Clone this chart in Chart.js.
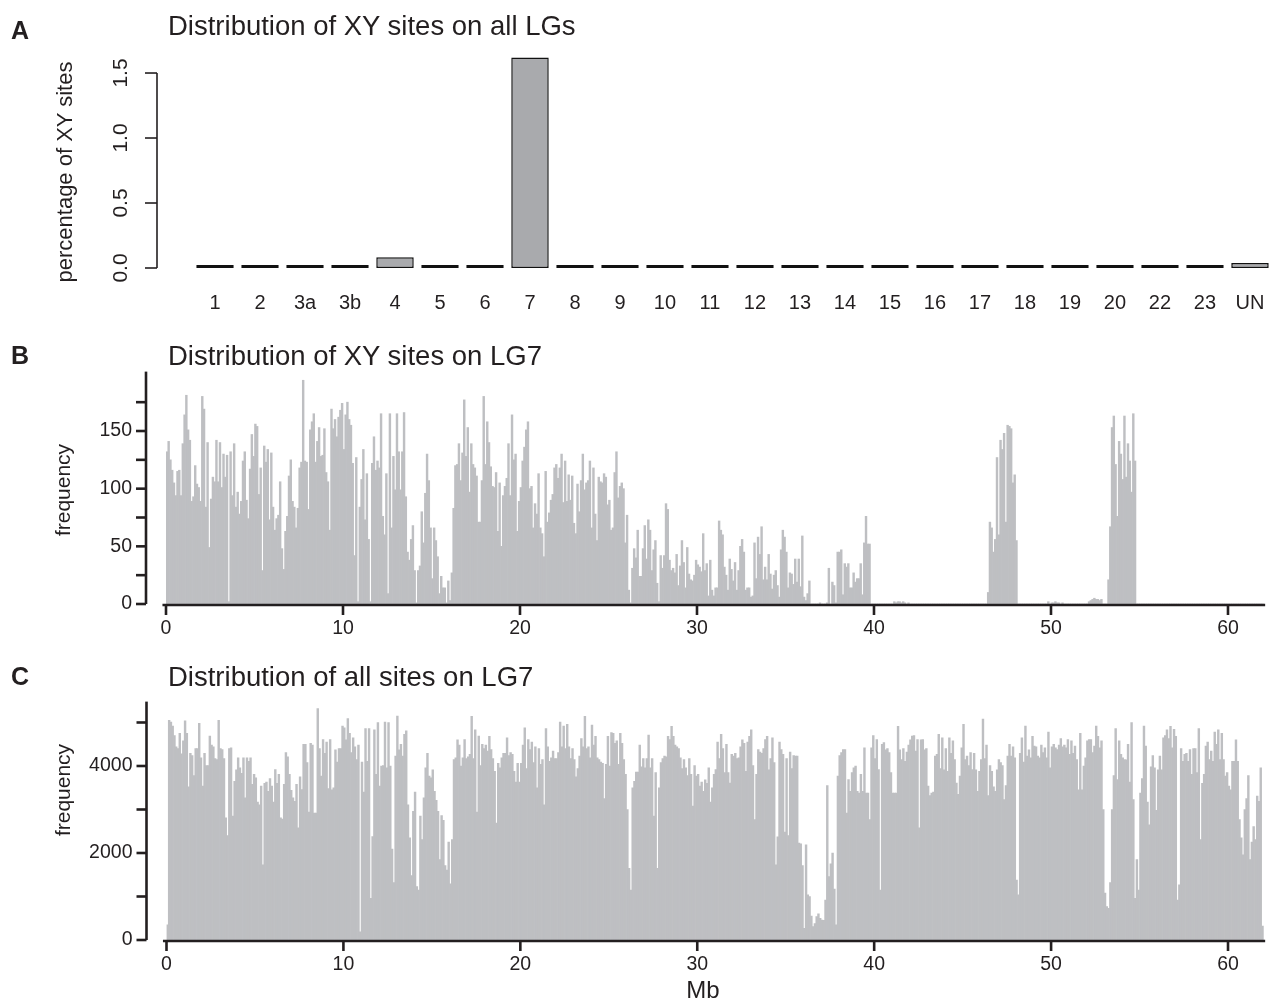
<!DOCTYPE html>
<html>
<head>
<meta charset="utf-8">
<script src="https://cdn.jsdelivr.net/npm/chart.js@4.4.0/dist/chart.umd.min.js"></script>
<style>
body { margin: 0; background: #fff; font-family: "Liberation Sans", Arial, Helvetica, sans-serif; color: #231f20; }
#page { position: relative; width: 1271px; height: 1003px; overflow: hidden; }
.panel { position: absolute; left: 0; width: 1271px; }
.letter { position: absolute; font-weight: bold; font-size: 25px; line-height: 1; }
.title { position: absolute; font-size: 27.5px; line-height: 1; white-space: nowrap; }
.ylab { position: absolute; font-size: 21px; line-height: 1; white-space: nowrap; transform: translate(-50%, -50%) rotate(-90deg); }
</style>
</head>
<body>
<div id="page">
  <div class="panel" style="top:0;height:330px"><canvas id="chartA"></canvas></div>
  <div class="panel" style="top:330px;height:320px"><canvas id="chartB"></canvas></div>
  <div class="panel" style="top:650px;height:353px"><canvas id="chartC"></canvas></div>

  <div class="letter" style="left:11px;top:18px">A</div>
  <div class="title" style="left:168px;top:12px">Distribution of XY sites on all LGs</div>
  <div class="ylab" style="left:65px;top:172px;font-size:22px">percentage of XY sites</div>

  <div class="letter" style="left:11px;top:343px">B</div>
  <div class="title" style="left:168px;top:342px">Distribution of XY sites on LG7</div>
  <div class="ylab" style="left:62px;top:490px">frequency</div>

  <div class="letter" style="left:11px;top:664px">C</div>
  <div class="title" style="left:168px;top:663px">Distribution of all sites on LG7</div>
  <div class="ylab" style="left:62px;top:790px">frequency</div>
  <div class="title" style="left:703px;top:978px;font-size:24px;transform:translateX(-50%)">Mb</div>
</div>

<script>
// panel A: share of XY sites per linkage group (%)
const lgLabels = ['1','2','3a','3b','4','5','6','7','8','9','10','11','12','13','14','15','16','17','18','19','20','22','23','UN'];
const xyPercent = [0.004,0.005,0.004,0.004,0.082,0.004,0.004,1.62,0.004,0.01,0.004,0.004,0.004,0.02,0.004,0.015,0.004,0.015,0.018,0.004,0.004,0.004,0.004,0.038];

// panels B and C: counts per 0.1 Mb bin along LG7
const binMb = 0.1;
const xyFreqLG7 = [
  // 0 - 13.1 Mb
  132,141,125,116,105,94,115,116,94,139,
  164,181,151,142,89,93,120,104,101,89,
  180,169,84,140,49,91,110,106,142,106,
  140,101,130,110,129,2,132,94,139,84,
  97,78,89,124,132,90,74,117,147,128,
  156,154,95,118,29,137,123,134,73,131,
  84,64,74,77,106,48,30,63,76,111,
  125,89,84,66,83,118,123,194,124,123,
  82,151,158,165,123,141,153,128,129,152,
  114,106,64,169,152,160,145,162,168,174,
  134,164,175,160,155,122,42,127,2,84,
  108,134,73,113,56,2,122,145,116,124,
  118,165,76,60,113,9,165,66,128,99,
  165,132,
  // 13.2 - 26.7 Mb
  99,132,166,93,45,38,56,68,29,1,
  29,33,80,53,96,130,107,66,22,66,
  55,41,9,24,14,14,1,20,3,27,
  83,120,121,139,107,131,177,128,153,
  97,139,121,118,111,71,71,107,180,121,
  158,140,119,102,101,114,63,105,50,94,
  102,109,139,94,164,125,130,63,89,101,
  124,136,151,158,100,102,66,87,78,
  113,66,61,41,115,71,79,90,95,118,
  121,109,118,130,88,124,89,112,90,111,
  70,61,104,80,107,130,99,105,107,124,
  66,118,78,55,110,106,105,113,110,
  86,90,64,66,114,132,92,102,105,100,
  53,77,12,1,31,48,40,64,24,
  // 26.8 - 39.7 Mb
  24,48,68,39,73,64,29,47,55,18,2,42,31,42,87,82,
  38,29,31,27,43,16,33,55,36,14,49,26,21,20,25,38,
  34,32,28,61,29,35,7,38,12,7,14,14,72,64,60,32,
  25,12,39,30,20,36,12,29,50,56,45,12,14,14,6,7,
  53,22,58,43,67,21,32,21,43,26,13,25,29,16,6,47,64,
  58,45,14,27,26,17,39,19,39,15,59,6,3,9,20,
  0,0,0,0,0,1,0,0,0,1,31,0,19,16,1,
  45,45,47,8,35,32,35,14,14,27,19,22,22,35,8,53,76,52,52,
  // 39.8 - 62 Mb
  0,0,0,0,0,0,0,0,0,0,0,0,0,
  2,1,2,2,1,2,1,0,1,
  0,0,0,0,0,0,0,0,0,0,
  0,0,0,0,0,0,0,0,0,0,
  0,0,0,0,0,0,0,0,0,0,
  0,0,0,0,0,0,0,0,0,0,
  0,0,0,0,
  10,71,66,45,56,127,60,142,134,148,71,155,154,152,105,112,55,
  0,0,0,0,0,0,0,0,0,0,0,0,0,0,0,0,0,
  2,0,1,1,2,1,1,0,1,
  0,0,0,0,0,0,0,0,0,0,0,0,0,0,
  2,3,4,5,4,4,3,4,
  0,0,0,
  21,67,153,163,121,76,141,130,108,163,110,139,124,97,165,124,
  0,0,0,0,0,0,0,0,0,0,
  0,0,0,0,0,0,0,0,0,0,
  0,0,0,0,0,0,0,0,0,0,
  0,0,0,0,0,0,0,0,0,0,
  0,0,0,0,0,0,0,0,0,0,
  0,0,0,0,0,0,0,0,0,0,
  0,0,0,0,0,0,0,0,0,0,
  0,0
];
const allFreqLG7 = [
  // 0 - 15.3 Mb
  350,5050,5010,4920,4700,4440,4400,4750,4280,4580,5040,4750,3520,4290,4240,3780,4400,
  4400,4980,4190,3540,4290,4010,4010,4690,4480,4440,4170,4150,5050,4400,4380,4170,2810,2400,4400,
  4420,2850,3650,3910,4190,3960,3830,4190,3270,4190,4110,4190,3580,3810,3730,
  3170,3110,3540,1730,3600,3630,3420,3710,3540,3170,3920,3600,3810,2810,2780,3580,4310,
  4210,3810,3440,3270,3190,3580,2580,3750,3460,4500,4500,4080,2940,4520,4480,2920,2920,5320,
  4400,3770,4610,4290,4550,3480,4610,3450,3500,4370,4090,4400,4400,4920,4880,4600,
  5090,4750,4310,4650,4440,4150,4480,190,4090,3400,4860,4110,4860,960,2380,4830,3810,
  5000,3540,4000,4010,5010,3960,5000,4000,2090,1320,4230,5150,4370,4500,4230,4730,4810,
  3110,2350,1480,2960,3400,1230,1150,2850,2310,3270,3960,4290,
  3770,3730,3910,3420,3210,2960,
  // 15.4 - 39.6 Mb
  1850,2860,2750,1710,1610,2250,1290,2310,4150,4190,4600,4480,4000,4190,4610,4170,
  4210,4270,5140,4170,4830,2940,4690,4010,4500,4400,4480,4340,4680,4380,4170,3880,
  2690,4060,3960,4190,4290,4290,4650,4240,4310,4270,3880,3630,4060,3630,4060,4480,
  4880,3940,4610,4380,4550,4080,4440,3500,4400,4040,4150,3110,4860,4440,4110,4190,
  4340,4170,4170,4310,5010,4440,4920,4400,4960,4440,4170,4400,4150,3750,3940,4230,
  4630,4440,5140,4400,4440,4190,4940,4480,4680,4190,4150,4090,4060,3250,4040,4680,
  4000,4770,4750,4520,4580,4040,4750,4520,4150,3810,3000,1650,1150,3500,3650,3860,
  3860,4480,3980,4170,3960,4170,4710,3960,4170,2850,3850,1650,3500,4080,4170,4230,
  4210,4680,4610,4910,4680,4480,4440,4400,4190,3940,4150,3960,3780,4170,3810,3080,
  4010,3770,3810,3540,3630,3420,3680,3600,3960,3170,3500,3810,3920,4550,4170,4730,
  4400,3850,4500,3850,3610,4270,4230,4290,4170,4190,4440,4600,4520,3880,4550,4680,
  4830,4010,2770,3810,4380,4320,4290,4400,4610,4680,3910,4170,4650,4080,1730,2370,
  4550,4380,4270,2480,4170,2400,4320,3940,4240,4230,4230,2230,2210,1710,270,2190,
  1040,1000,550,310,380,540,600,500,460,450,920,3550,1460,1750,2000,1170,350,3770,
  4240,4310,4380,4380,2920,3690,3420,3850,3960,4000,
  3420,3380,3810,3420,4420,3380,3380,
  // 39.7 - 62 Mb
  2770,4420,4700,4170,4610,3920,1150,4500,4540,4370,4400,4310,3850,3380,3380,3380,4910,
  4370,4150,4400,4110,4320,4480,4600,4690,4700,4340,4610,2580,4600,4610,4370,4400,3540,
  3320,3380,3400,4230,4270,4730,3940,4650,3910,4400,3880,4650,4290,4580,4150,3610,3350,
  3770,4420,4960,4150,4230,4010,4310,3920,4290,3910,3420,3880,4150,5080,4170,4480,3320,
  4010,3880,3520,3420,3910,4150,4080,4010,3230,3550,4230,4500,4230,4440,4190,1380,1040,
  4290,4650,4090,4920,4230,4370,4190,4680,4460,4440,4230,4190,4480,4310,4420,4190,4780,
  3960,4440,4500,4420,4380,4480,4630,4440,4480,4420,4610,4270,4580,4290,4460,4150,3450,
  4750,3450,4000,4190,4580,4610,4610,4310,4460,4920,4680,4420,4580,3000,1080,770,730,
  1320,3000,3780,4860,3690,4580,4270,4190,
  4150,4140,4500,
  3630,5000,3230,960,1850,1150,3380,3710,4920,4460,3170,2650,3980,4240,3960,2980,3910,
  4230,3910,4650,4700,4830,4630,
  4910,4420,4840,4680,920,1270,4400,4110,4270,4290,4110,4380,3810,4400,4400,
  3850,4860,2310,3600,3810,4460,4550,4150,4340,4110,4780,4500,4830,4150,4750,4150,3770,3850,3540,
  3450,4110,4110,4600,4110,2770,2350,1960,3000,3250,3780,1850,2250,2610,2310,3310,3190,
  3960,320
];

// axis ticks
const aYTicks = [0, 0.5, 1.0, 1.5];
const mbTicks = [0, 10, 20, 30, 40, 50, 60];
const bYTicks = [0, 25, 50, 75, 100, 125, 150, 175];
const bYLabels = [0, 50, 100, 150];
const cYTicks = [0, 1000, 2000, 3000, 4000, 5000];
const cYLabels = [0, 2000, 4000];

const ink = '#231f20';
const labelFont = '"Liberation Sans", Arial, Helvetica, sans-serif';

// R-style axes drawn from the chart's own scales
const rAxes = {
  id: 'rAxes',
  afterDatasetsDraw(chart, args, opts) {
    const ctx = chart.ctx, xs = chart.scales.x, ys = chart.scales.y;
    ctx.save();
    ctx.strokeStyle = ink;
    ctx.fillStyle = ink;
    ctx.lineCap = 'butt';
    if (opts.x) {
      const ax = opts.x;
      const py = ys.getPixelForValue(0) + (ax.shift || 0);
      ctx.lineWidth = ax.width;
      if (ax.line) {
        ctx.beginPath();
        ctx.moveTo(xs.getPixelForValue(ax.line[0]), py);
        ctx.lineTo(xs.getPixelForValue(ax.line[1]), py);
        ctx.stroke();
      }
      ctx.font = ax.font + 'px ' + labelFont;
      ctx.textAlign = 'center';
      ctx.textBaseline = 'middle';
      ax.ticks.forEach((t, i) => {
        const px = xs.getPixelForValue(t);
        if (ax.tickLen) {
          ctx.beginPath();
          ctx.moveTo(px, py);
          ctx.lineTo(px, py + ax.tickLen);
          ctx.stroke();
        }
        const lab = ax.labels ? ax.labels[i] : String(t);
        if (lab !== undefined) ctx.fillText(lab, px, py + ax.labelGap);
      });
    }
    if (opts.y) {
      const ay = opts.y;
      const px = chart.chartArea.left - ay.gap;
      ctx.lineWidth = ay.width;
      ctx.beginPath();
      ctx.moveTo(px, ys.getPixelForValue(ay.line[0]));
      ctx.lineTo(px, ys.getPixelForValue(ay.line[1]));
      ctx.stroke();
      ay.ticks.forEach(t => {
        const py = ys.getPixelForValue(t);
        ctx.beginPath();
        ctx.moveTo(px, py);
        ctx.lineTo(px - ay.tickLen, py);
        ctx.stroke();
      });
      ctx.font = ay.font + 'px ' + labelFont;
      ay.labels.forEach(v => {
        const py = ys.getPixelForValue(v);
        const txt = ay.format ? ay.format(v) : String(v);
        if (ay.rotate) {
          ctx.save();
          ctx.translate(px - ay.labelGap, py);
          ctx.rotate(-Math.PI / 2);
          ctx.textAlign = 'center';
          ctx.textBaseline = 'middle';
          ctx.fillText(txt, 0, 0);
          ctx.restore();
        } else {
          ctx.textAlign = 'right';
          ctx.textBaseline = 'middle';
          ctx.fillText(txt, px - ay.labelGap, py);
        }
      });
    }
    ctx.restore();
  }
};

function baseOptions(pad, xr, yr, axes) {
  return {
    responsive: true,
    maintainAspectRatio: false,
    animation: false,
    events: [],
    layout: { padding: pad },
    plugins: { legend: { display: false }, tooltip: { enabled: false }, rAxes: axes },
    scales: {
      x: { type: 'linear', display: false, offset: false, min: xr[0], max: xr[1] },
      y: { type: 'linear', display: false, min: yr[0], max: yr[1] }
    }
  };
}

// A
new Chart(document.getElementById('chartA'), {
  type: 'bar',
  data: {
    datasets: [{
      data: xyPercent.map((v, i) => ({ x: i, y: v })),
      backgroundColor: '#a9aaad',
      borderColor: '#111',
      borderWidth: 1.5,
      borderSkipped: false,
      minBarLength: 3,
      barPercentage: 0.833,
      categoryPercentage: 1
    }]
  },
  options: baseOptions({ left: 157, right: 0, top: 40, bottom: 62 }, [-1.289, 23.467], [0, 1.754], {
    x: { ticks: lgLabels.map((_, i) => i), labels: lgLabels, width: 0, tickLen: 0, labelGap: 35, font: 20 },
    y: { line: [0, 1.5], ticks: aYTicks, labels: aYTicks, format: v => v.toFixed(1), width: 1.6, tickLen: 12, gap: 0, labelGap: 36, font: 21, rotate: true }
  }),
  plugins: [rAxes]
});

function histChart(id, values, pad, yMax, yTicks, yLabels, yTop) {
  return new Chart(document.getElementById(id), {
    type: 'bar',
    data: {
      datasets: [{
        data: values.map((v, i) => ({ x: (i + 0.5) * binMb, y: v })),
        backgroundColor: '#bebfc2',
        borderWidth: 0,
        barPercentage: 1,
        categoryPercentage: 1
      }]
    },
    options: baseOptions(pad, [0, 62.43], [0, yMax], {
      x: { line: [-0.2, 62.1], ticks: mbTicks, width: 2.6, tickLen: 10, labelGap: 24, shift: 1, font: 19.5 },
      y: { line: [0, yTop], ticks: yTicks, labels: yLabels, width: 2.6, tickLen: 10, gap: 20, labelGap: 14, font: 19.5 }
    }),
    plugins: [rAxes]
  });
}

histChart('chartB', xyFreqLG7, { left: 166, right: 0, top: 40, bottom: 46 }, 202.9, bYTicks, bYLabels, 201.5);
histChart('chartC', allFreqLG7, { left: 166.5, right: 0, top: 50, bottom: 63 }, 5517, cYTicks, cYLabels, 5480);
</script>
</body>
</html>
